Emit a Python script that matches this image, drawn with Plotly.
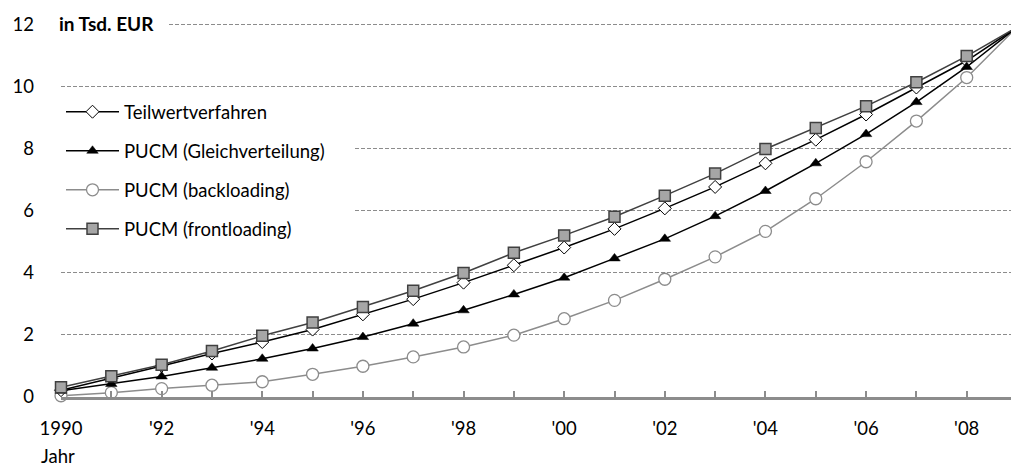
import plotly.graph_objects as go

years = list(range(1990, 2010))
teilwert = [0.22, 0.60, 1.00, 1.40, 1.77, 2.17, 2.66, 3.15, 3.68, 4.24, 4.81, 5.41, 6.07, 6.76, 7.52, 8.28, 9.09, 9.96, 10.82, 11.9]
gleich = [0.20, 0.42, 0.66, 0.94, 1.23, 1.56, 1.93, 2.36, 2.79, 3.30, 3.84, 4.46, 5.09, 5.82, 6.63, 7.52, 8.46, 9.49, 10.62, 11.9]
backloading = [0.04, 0.14, 0.27, 0.38, 0.49, 0.73, 0.99, 1.29, 1.61, 1.99, 2.52, 3.11, 3.79, 4.51, 5.33, 6.38, 7.57, 8.88, 10.28, 11.9]
frontloading = [0.31, 0.67, 1.04, 1.48, 1.97, 2.40, 2.90, 3.42, 3.99, 4.64, 5.20, 5.80, 6.48, 7.19, 7.98, 8.66, 9.36, 10.13, 10.97, 11.9]
tick_years = list(range(1990, 2009))
tick_labels = ["1990", "", "'92", "", "'94", "", "'96", "", "'98", "", "'00", "", "'02", "", "'04", "", "'06", "", "'08"]
y_ticks = [0, 2, 4, 6, 8, 10, 12]

FONT = "Lato"
FS = 18.5
fig = go.Figure()

fig.add_trace(go.Scatter(
    x=years, y=backloading, name="PUCM (backloading)", mode="lines+markers",
    line=dict(color="#8c8c8c", width=1.5),
    marker=dict(symbol="circle", size=12, color="white", line=dict(color="#8c8c8c", width=1.3)),
    cliponaxis=False, legendrank=3, legendgroup="c"))
fig.add_trace(go.Scatter(
    x=years, y=teilwert, name="Teilwertverfahren", mode="lines+markers",
    line=dict(color="#000000", width=1.5),
    marker=dict(symbol="diamond", size=10, color="white", line=dict(color="#000000", width=1)),
    cliponaxis=False, legendrank=1, legendgroup="a"))
fig.add_trace(go.Scatter(
    x=years, y=gleich, name="PUCM (Gleichverteilung)", mode="lines+markers",
    line=dict(color="#000000", width=1.5),
    marker=dict(symbol="triangle-up", size=10, color="#000000", line=dict(color="#000000", width=0.5)),
    cliponaxis=False, legendrank=2, legendgroup="b"))
fig.add_trace(go.Scatter(
    x=years, y=frontloading, name="PUCM (frontloading)", mode="lines+markers",
    line=dict(color="#404040", width=1.5),
    marker=dict(symbol="square", size=11, color="#a6a6a6", line=dict(color="#404040", width=1.5)),
    cliponaxis=False, legendrank=4, legendgroup="d"))

fig.update_layout(
    width=1011, height=466,
    margin=dict(l=61, r=0, t=21, b=69.3),
    plot_bgcolor="white", paper_bgcolor="white",
    font=dict(family=FONT, size=FS, color="#000000"),
    showlegend=True,
    legend=dict(x=0.0, y=0.808, xanchor="left", yanchor="top",
                bgcolor="white", borderwidth=0, itemwidth=53,
                font=dict(family=FONT, size=FS), tracegroupgap=12,
                traceorder="grouped"),
    xaxis=dict(range=[1990, 2008.88], tickvals=tick_years, ticktext=tick_labels,
               showgrid=False, zeroline=False, showline=True, linecolor="#8c8c8c", linewidth=2.5,
               ticks="inside", ticklen=6, tickwidth=2, tickcolor="#8c8c8c",
               ticklabelstandoff=13, tickfont=dict(family=FONT, size=FS)),
    yaxis=dict(range=[0, 12.1], tickvals=y_ticks, showgrid=True, gridcolor="#8c8c8c",
               griddash="4px,2px", gridwidth=1, zeroline=False, showline=False, ticks="",
               ticklabelstandoff=26, tickfont=dict(family=FONT, size=FS)),
    shapes=[
        dict(type="rect", xref="paper", yref="paper", x0=-0.01, x1=0.1126, y0=0.975, y1=1.008,
             fillcolor="white", line=dict(width=0), layer="above"),
        dict(type="rect", xref="paper", yref="paper", x0=0.2832, x1=0.3074, y0=0.41, y1=0.80,
             fillcolor="white", line=dict(width=0), layer="above"),
    ],
    annotations=[
        dict(text="<b>in Tsd. EUR</b>", xref="paper", yref="paper", x=-0.004, y=0.9933,
             xanchor="left", yanchor="middle", showarrow=False, font=dict(family=FONT, size=19)),
        dict(text="Jahr", xref="paper", yref="paper", x=-0.0232, y=-0.158,
             xanchor="left", yanchor="middle", showarrow=False, font=dict(family=FONT, size=FS)),
    ],
)

fig.write_html("out.html")
